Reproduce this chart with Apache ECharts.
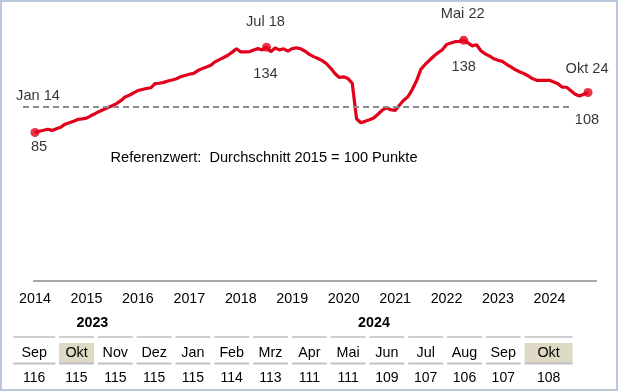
<!DOCTYPE html>
<html><head><meta charset="utf-8">
<script src="https://cdn.jsdelivr.net/npm/echarts@6/dist/echarts.min.js"></script>
<style>html,body{margin:0;padding:0;background:#fff}#c{width:620px;height:392px}</style>
</head><body><div id="c"></div>
<script>
// Monthly index values, Jan 2014 .. Okt 2024 (2015 = 100)
const monthlyIndex = [
  85, 85.7, 86.3, 86.9, 86.2, 87.2, 88.0, 89.8, 90.6, 91.5, 92.5, 92.8,
  93.3, 94.6, 95.8, 97.1, 98.2, 99.4, 100.4, 101.6, 103.3, 105.4, 106.4, 107.8,
  109.1, 109.7, 110.3, 110.7, 113.1, 113.3, 113.8, 114.6, 115.2, 115.9, 117.1, 117.8,
  118.5, 119.0, 120.6, 121.7, 122.7, 123.6, 125.6, 126.9, 128.1, 129.4, 131.2, 133.1,
  131.3, 131.3, 131.4, 132.4, 133.2, 132.4, 134, 131.4, 133.6, 132.5, 133.1, 131.8,
  133.2, 133.6, 133.1, 131.7, 129.9, 128.6, 127.5, 126.3, 124.5, 121.9, 118.8, 116.6,
  117.0, 116.0, 113.3, 92.9, 90.6, 91.4, 92.3, 93.3, 95.5, 97.9, 99.2, 98.1,
  97.7, 100.7, 103.5, 105.6, 109.7, 114.7, 121.3, 124.1, 126.5, 128.8, 130.8, 132.5,
  135.6, 136.4, 137.2, 137.4, 138, 136.5, 134.8, 135.4, 132.0, 130.2, 129.0, 127.4,
  126.5, 125.9, 124.2, 122.7, 121.1, 119.9, 118.9, 117.6, 116, 115, 115, 115,
  115, 114, 113, 111, 111, 109, 107, 106, 107, 108
];
const yearLabels = ['2014','2015','2016','2017','2018','2019','2020','2021','2022','2023','2024'];
const keyIdx = [0, 54, 100, 129];
const keyNames = ['Jan 14', 'Jul 18', 'Mai 22', 'Okt 24'];
const referenceValue = 100;
const referenceText = 'Referenzwert:  Durchschnitt 2015 = 100 Punkte';

const tableMonths = ['Sep','Okt','Nov','Dez','Jan','Feb','Mrz','Apr','Mai','Jun','Jul','Aug','Sep','Okt'];
const tableYears  = [2023,2023,2023,2023,2024,2024,2024,2024,2024,2024,2024,2024,2024,2024];
const tableValues = [116,115,115,115,115,114,113,111,111,109,107,106,107,108];
const tableHighlight = [1, 13];

const FONT = '"Liberation Sans", Arial, sans-serif';
const RED = '#E3001B';
const TXT = '#000';

const lineData = monthlyIndex.map((v, i) => [i, v]);
const yearTicks = yearLabels.map((_, k) => k * 12);
const topOff = [[3, -37], [-1, -25], [-1, -26], [-1, -24]];
const botOff = [[4, 14], [-1, 27], [0, 27], [-1, 27]];

// table cell geometry helper
function cellRange(api, i) {
  const c = api.coord([i, 0]);
  let x0 = c[0] - 17.5, x1 = c[0] + 17.5;
  if (i === 0) x0 -= 7;
  if (i === tableMonths.length - 1) x1 += 13;
  return [x0, x1];
}

const chart = echarts.init(document.getElementById('c'), null, {renderer: 'canvas'});
chart.setOption({
  animation: false,
  backgroundColor: '#fff',
  textStyle: {fontFamily: FONT},
  grid: [
    {left: 13.57, width: 600.2, top: 2, height: 174},
    {left: 18.3, width: 543.2, top: 330, height: 55}
  ],
  xAxis: [
    {
      type: 'value', gridIndex: 0, min: -5, max: 135, offset: 105,
      axisLine: {show: false}, axisTick: {show: false}, splitLine: {show: false},
      axisLabel: {
        customValues: yearTicks, margin: 11, fontSize: 14.3, color: TXT, fontFamily: FONT,
        formatter: v => yearLabels[Math.round(v / 12)] || ''
      }
    },
    {type: 'category', gridIndex: 1, data: tableMonths.map((m, i) => i), show: false}
  ],
  yAxis: [
    {type: 'value', gridIndex: 0, min: 60, max: 160, show: false},
    {type: 'value', gridIndex: 1, min: 0, max: 1, show: false}
  ],
  graphic: [
    {type: 'rect', shape: {x: 1, y: 1, width: 616, height: 389},
     style: {fill: 'none', stroke: '#B9C8DA', lineWidth: 2}, silent: true},
    {type: 'line', shape: {x1: 33, y1: 281, x2: 597, y2: 281},
     style: {stroke: '#A8A8A8', lineWidth: 2}, silent: true},
    {type: 'text', x: 264, y: 158,
     style: {text: referenceText, font: '14.6px ' + FONT, fill: TXT, align: 'center', verticalAlign: 'middle'}}
  ],
  series: [
    {
      type: 'line', xAxisIndex: 0, yAxisIndex: 0, data: lineData,
      showSymbol: false, symbol: 'none', z: 3,
      lineStyle: {color: RED, width: 3.2},
      markLine: {
        silent: true, symbol: 'none', label: {show: false},
        lineStyle: {color: '#8C8C8C', width: 2, type: [6, 4]},
        data: [[{coord: [-2.8, referenceValue]}, {coord: [125.3, referenceValue]}]]
      }
    },
    {
      type: 'scatter', xAxisIndex: 0, yAxisIndex: 0, z: 4, symbolSize: 9,
      itemStyle: {color: RED},
      data: keyIdx.map((i, k) => ({
        value: [i, monthlyIndex[i]],
        label: {show: true, position: 'inside', offset: topOff[k], formatter: keyNames[k],
                color: TXT, fontSize: 14.6, fontFamily: FONT, textBorderWidth: 0}
      }))
    },
    {
      type: 'scatter', xAxisIndex: 0, yAxisIndex: 0, z: 4, symbolSize: 0.1,
      itemStyle: {color: 'rgba(0,0,0,0)'},
      data: keyIdx.map((i, k) => ({
        value: [i, monthlyIndex[i]],
        label: {show: true, position: 'inside', offset: botOff[k], formatter: String(Math.round(monthlyIndex[i])),
                color: TXT, fontSize: 14.6, fontFamily: FONT, textBorderWidth: 0}
      }))
    },
    {
      type: 'custom', xAxisIndex: 1, yAxisIndex: 1, clip: false,
      data: tableValues.map((v, i) => [i, v]),
      renderItem: function (params, api) {
        const i = api.value(0);
        const r = cellRange(api, i);
        const x0 = r[0], x1 = r[1], cx = (x0 + x1) / 2;
        const ch = [];
        ch.push({type: 'rect', shape: {x: x0, y: 336, width: x1 - x0, height: 2}, style: {fill: '#CFCFCF'}});
        if (tableHighlight.indexOf(i) >= 0) {
          ch.push({type: 'rect', shape: {x: x0, y: 343, width: x1 - x0, height: 20}, style: {fill: '#DDD9C4'}});
        }
        ch.push({type: 'rect', shape: {x: x0, y: 362.5, width: x1 - x0, height: 2}, style: {fill: '#C2C2C2'}});
        ch.push({type: 'text', style: {text: tableMonths[i], x: cx, y: 353, align: 'center', verticalAlign: 'middle',
                 font: '14.3px ' + FONT, fill: TXT}});
        ch.push({type: 'text', style: {text: String(api.value(1)), x: cx, y: 378, align: 'center', verticalAlign: 'middle',
                 font: '14px ' + FONT, fill: TXT}});
        if (i === 0 || tableYears[i] !== tableYears[i - 1]) {
          let j = i;
          while (j + 1 < tableYears.length && tableYears[j + 1] === tableYears[i]) j++;
          const rEnd = cellRange(api, j);
          ch.push({type: 'text', style: {text: String(tableYears[i]), x: (x0 + rEnd[1]) / 2, y: 323,
                   align: 'center', verticalAlign: 'middle', font: 'bold 14.3px ' + FONT, fill: TXT}});
        }
        return {type: 'group', children: ch};
      }
    }
  ]
});
</script>
</body></html>
